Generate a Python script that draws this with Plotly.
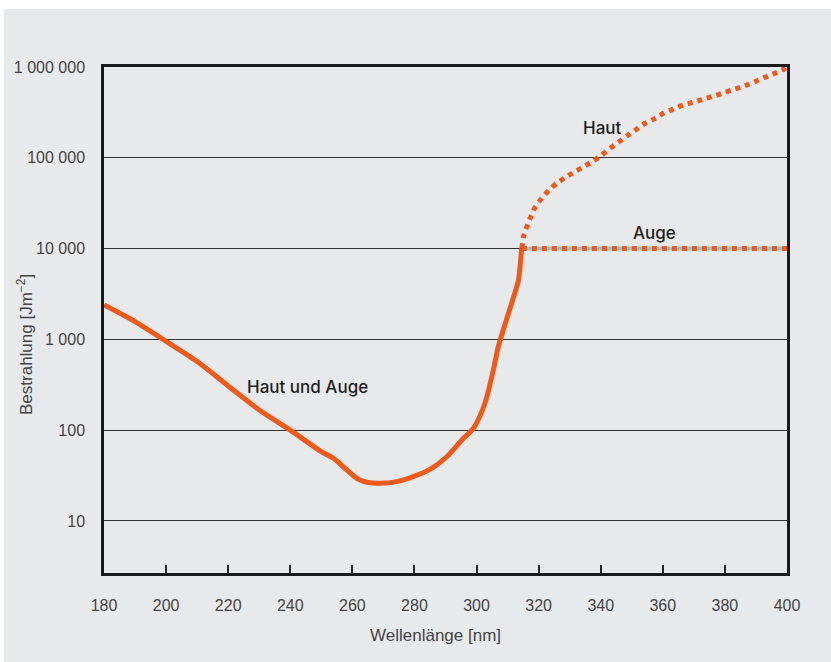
import plotly.graph_objects as go

# Solid curve: Haut und Auge
wl_both = [180, 190, 200, 210, 220, 230, 240, 250, 253.9, 258.2, 261.4, 264.6, 268.9, 274.3, 279.6,
           285, 290.4, 295.7, 299, 302.7, 305.4, 307, 308.6, 311.3, 313.5, 314.5, 314.6]
val_both = [2390, 1570, 950, 570, 307, 167, 100, 58, 49, 36.5, 29.5, 26.7, 26, 27.1, 30.8,
            37, 51, 81, 105, 198, 460, 830, 1270, 2500, 4510, 9660, 10000]

# Dotted curve: Haut
wl_haut = [314.6, 315.1, 316.2, 317.4, 318.8, 321, 323.4, 325.8, 328.5, 331.7, 334.9, 337.6,
           340.3, 343, 345.7, 348.4, 351.6, 354.3, 357.5, 360.2, 363.4, 366.6, 369.8, 373.3,
           376.8, 380, 383.3, 386.5, 389.7, 392.9, 396.1, 399, 400]
val_haut = [10000, 13500, 17400, 22100, 28200, 35800, 44200, 52400, 60300, 70300, 81300, 92300,
            107000, 127000, 148000, 174000, 207000, 240000, 272000, 309000, 344000, 382000, 408000, 445000,
            483000, 526000, 573000, 622000, 689000, 771000, 853000, 944000, 1000000]

# Dotted line: Auge
wl_auge = [314.6, 400]
val_auge = [10000, 10000]

x_ticks = [180, 200, 220, 240, 260, 280, 300, 320, 340, 360, 380, 400]
y_ticks = [10, 100, 1000, 10000, 100000, 1000000]
y_tick_text = ["10", "100", "1 000", "10 000", "100 000", "1 000 000"]

ORANGE = "#ee5a1c"
PLOT_BG = "#b4b5b7"
TXT = "#444444"
FONT = "Liberation Sans"
LBL_FONT = "Inter"

W, H = 831, 662
L, R, T, B = 104, 787, 67, 573

def px(xpix):
    return (xpix - L) / (R - L)

def py(ypix):
    return (B - ypix) / (B - T)

fig = go.Figure()
fig.add_trace(go.Scatter(x=wl_both, y=val_both, mode="lines",
                         line=dict(color=ORANGE, width=5, shape="spline", smoothing=0.8),
                         hoverinfo="skip"))
fig.add_trace(go.Scatter(x=wl_haut, y=val_haut, mode="lines",
                         line=dict(color=ORANGE, width=5, dash="dot", shape="spline", smoothing=0.6),
                         hoverinfo="skip"))
# background-coloured band hiding the gridline behind the dotted "Auge" line
fig.add_trace(go.Scatter(x=[wl_auge[0] + 0.8, wl_auge[1]], y=val_auge, mode="lines",
                         line=dict(color=PLOT_BG, width=3),
                         hoverinfo="skip"))
fig.add_trace(go.Scatter(x=wl_auge, y=val_auge, mode="lines",
                         line=dict(color=ORANGE, width=5, dash="dot"),
                         hoverinfo="skip"))

lbl_font = dict(family=LBL_FONT, size=17, color="#1e1e1e", weight=500)

fig.update_layout(
    width=W, height=H,
    margin=dict(l=L, r=W - R, t=T, b=H - B),
    paper_bgcolor="white",
    plot_bgcolor=PLOT_BG,
    showlegend=False,
    font=dict(family=FONT, color=TXT, size=16),
    shapes=[dict(type="rect", xref="paper", yref="paper", layer="below",
                 x0=px(4), x1=px(W + 5), y0=py(H + 5), y1=py(9),
                 fillcolor="#e8e9eb", line=dict(width=0))],
    annotations=[
        dict(text="Haut und Auge", x=245.7, y=2.476, xref="x", yref="y", showarrow=False,
             font=lbl_font),
        dict(text="Haut", x=340.7, y=5.328, xref="x", yref="y", showarrow=False,
             font=lbl_font),
        dict(text="Auge", x=357.2, y=4.172, xref="x", yref="y", showarrow=False,
             font=lbl_font),
        dict(text="Wellenlänge [nm]", x=px(435), y=py(635), xref="paper", yref="paper",
             showarrow=False, xanchor="center", yanchor="middle",
             font=dict(family=FONT, size=17, color=TXT)),
        dict(text="Bestrahlung [Jm<sup>−2</sup>]", x=px(25), y=py(345), xref="paper", yref="paper",
             showarrow=False, xanchor="center", yanchor="middle", textangle=-90,
             font=dict(family=FONT, size=17, color=TXT)),
    ],
)

fig.update_xaxes(
    range=[180, 400], tickvals=x_ticks, ticktext=[str(v) for v in x_ticks],
    ticks="inside", ticklen=8, tickwidth=1.5, tickcolor="#222222",
    showgrid=False, zeroline=False,
    showline=True, mirror=True, linecolor="#1a1a1a", linewidth=2.5,
    ticklabelstandoff=16, tickfont=dict(size=16, color=TXT),
)
fig.update_yaxes(
    type="log", range=[0.427, 6], tickvals=y_ticks, ticktext=y_tick_text,
    ticks="", showgrid=True, gridcolor="#333333", gridwidth=1,
    zeroline=False,
    showline=True, mirror=True, linecolor="#1a1a1a", linewidth=2.5,
    ticklabelstandoff=13, tickfont=dict(size=16, color=TXT),
)

fig.write_html(
    "out.html",
    config={"displayModeBar": False},
    post_script="document.body.style.margin='0';document.body.style.padding='0';",
)
